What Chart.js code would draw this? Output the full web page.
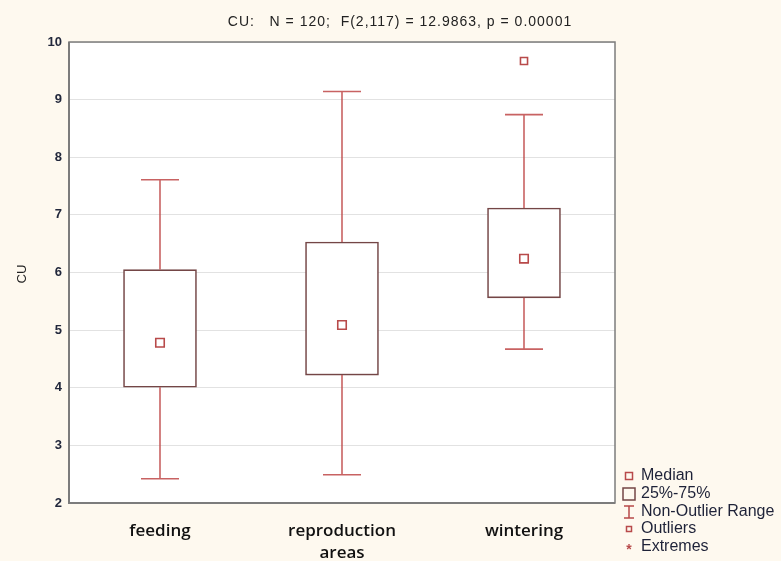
<!DOCTYPE html>
<html>
<head>
<meta charset="utf-8">
<script src="https://cdn.jsdelivr.net/npm/chart.js@4.4.1/dist/chart.umd.min.js"></script>
<style>
html, body { margin: 0; padding: 0; background: #fef9ef; }
#wrap { width: 781px; height: 561px; position: relative; }
</style>
</head>
<body>
<div id="wrap"><canvas id="cu-chart"></canvas></div>
<script>
const categories = ["feeding", ["reproduction", "areas"], "wintering"];
const whiskerLow = [2.42, 2.49, 4.67];
const q1 = [4.01, 4.22, 5.56];
const medians = [4.78, 5.09, 6.24];
const q3 = [6.05, 6.53, 7.12];
const whiskerHigh = [7.61, 9.14, 8.74];
const outliers = [null, null, 9.67];
const yMin = 2, yMax = 10, yStep = 1;
const titleText = "CU:   N = 120;  F(2,117) = 12.9863, p = 0.00001";
const legendLabels = ["Median", "25%-75%", "Non-Outlier Range", "Outliers", "Extremes"];

const boxColor = "#744646";
const redColor = "#b84a4a";
const whiskerColor = "rgba(190, 70, 70, 0.85)";

const ctx = document.getElementById("cu-chart").getContext("2d");

// draws background, whiskers, frame, title and the custom legend
const boxPlotPlugin = {
    id: "boxPlotPlugin",
    beforeDraw(chart) {
        const { ctx, chartArea: a, width, height } = chart;
        ctx.save();
        ctx.fillStyle = "#fef9ef";
        ctx.fillRect(0, 0, width, height);
        ctx.fillStyle = "#ffffff";
        ctx.fillRect(a.left, a.top, a.right - a.left, a.bottom - a.top);
        ctx.restore();
    },
    afterDatasetsDraw(chart) {
        const { ctx, scales } = chart;
        const x = scales.x, y = scales.y;
        ctx.save();
        ctx.strokeStyle = whiskerColor;
        ctx.lineWidth = 1.6;
        categories.forEach((c, i) => {
            const cx = x.getPixelForValue(i);
            const yLo = y.getPixelForValue(whiskerLow[i]);
            const yHi = y.getPixelForValue(whiskerHigh[i]);
            ctx.beginPath();
            ctx.moveTo(cx, y.getPixelForValue(q3[i]));
            ctx.lineTo(cx, yHi);
            ctx.moveTo(cx - 19, yHi);
            ctx.lineTo(cx + 19, yHi);
            ctx.moveTo(cx, y.getPixelForValue(q1[i]));
            ctx.lineTo(cx, yLo);
            ctx.moveTo(cx - 19, yLo);
            ctx.lineTo(cx + 19, yLo);
            ctx.stroke();
        });
        ctx.restore();
    },
    afterDraw(chart) {
        const { ctx, chartArea: a } = chart;
        ctx.save();
        // frame
        ctx.strokeStyle = "#7c7c7c";
        ctx.lineWidth = 1.5;
        ctx.strokeRect(a.left, a.top, a.right - a.left, a.bottom - a.top);
        ctx.lineWidth = 2;
        ctx.beginPath();
        ctx.moveTo(a.left, a.top);
        ctx.lineTo(a.left, a.bottom);
        ctx.lineTo(a.right, a.bottom);
        ctx.stroke();

        // title
        ctx.fillStyle = "#222";
        ctx.font = "14px 'Liberation Sans', Arial, sans-serif";
        ctx.letterSpacing = "1px";
        ctx.textAlign = "center";
        ctx.textBaseline = "middle";
        ctx.fillText(titleText, 400, 22);
        ctx.letterSpacing = "0px";

        // y axis title
        ctx.save();
        ctx.translate(22, 274);
        ctx.rotate(-Math.PI / 2);
        ctx.font = "13px 'Liberation Sans', Arial, sans-serif";
        ctx.fillText("CU", 0, 0);
        ctx.restore();

        // legend
        const lx = 641;
        const rows = [476, 494, 512, 529, 547];
        ctx.font = "16px 'Liberation Sans', Arial, sans-serif";
        ctx.textAlign = "left";
        ctx.fillStyle = "#1e2238";
        legendLabels.forEach((label, i) => ctx.fillText(label, lx, rows[i]));

        ctx.strokeStyle = redColor;
        ctx.lineWidth = 1.5;
        ctx.strokeRect(625.5, rows[0] - 3.5, 7, 7);
        ctx.strokeStyle = boxColor;
        ctx.strokeRect(623, rows[1] - 6, 12, 12);
        ctx.strokeStyle = redColor;
        ctx.beginPath();
        ctx.moveTo(624, rows[2] - 6); ctx.lineTo(634, rows[2] - 6);
        ctx.moveTo(629, rows[2] - 6); ctx.lineTo(629, rows[2] + 6);
        ctx.moveTo(624, rows[2] + 6); ctx.lineTo(634, rows[2] + 6);
        ctx.stroke();
        ctx.strokeRect(626.5, rows[3] - 2.5, 5, 5);
        ctx.fillStyle = redColor;
        ctx.font = "bold 14px 'Liberation Sans', Arial, sans-serif";
        ctx.textAlign = "center";
        ctx.fillText("*", 629, rows[4] + 3);
        ctx.restore();
    }
};

const chart = new Chart(ctx, {
    type: "bar",
    data: {
        labels: categories,
        datasets: [
            {
                label: "25%-75%",
                data: q1.map((v, i) => [v, q3[i]]),
                backgroundColor: "#ffffff",
                borderColor: boxColor,
                borderWidth: 1.6,
                borderSkipped: false,
                barThickness: 73,
                order: 2
            },
            {
                type: "line",
                label: "Median",
                data: medians,
                showLine: false,
                pointStyle: "rect",
                pointRadius: 6,
                pointBorderWidth: 1.6,
                pointBorderColor: redColor,
                pointBackgroundColor: "rgba(255,255,255,0)",
                order: 1
            },
            {
                type: "line",
                label: "Outliers",
                data: outliers,
                showLine: false,
                pointStyle: "rect",
                pointRadius: 5,
                pointBorderWidth: 1.6,
                pointBorderColor: redColor,
                pointBackgroundColor: "rgba(255,255,255,0)",
                order: 1
            }
        ]
    },
    options: {
        responsive: true,
        maintainAspectRatio: false,
        animation: false,
        events: [],
        layout: {
            padding: { top: 42, right: 166, left: 0, bottom: 0 }
        },
        plugins: {
            legend: { display: false },
            tooltip: { enabled: false },
            title: { display: false }
        },
        scales: {
            x: {
                offset: true,
                grid: { display: false, drawTicks: false },
                border: { display: false },
                ticks: {
                    color: "#111",
                    padding: 17,
                    font: { family: "'Open Sans', sans-serif", size: 17, weight: "600", lineHeight: 1.3 }
                },
                afterFit(scale) { scale.height = 58; }
            },
            y: {
                min: yMin,
                max: yMax,
                grid: { color: "#e2e2e2", lineWidth: 1, drawTicks: false },
                border: { display: false },
                ticks: {
                    stepSize: yStep,
                    color: "#22283c",
                    padding: 7,
                    font: { family: "'Liberation Sans', Arial, sans-serif", size: 13, weight: "bold" }
                },
                afterFit(scale) { scale.width = 69; }
            }
        }
    },
    plugins: [boxPlotPlugin]
});
</script>
</body>
</html>
